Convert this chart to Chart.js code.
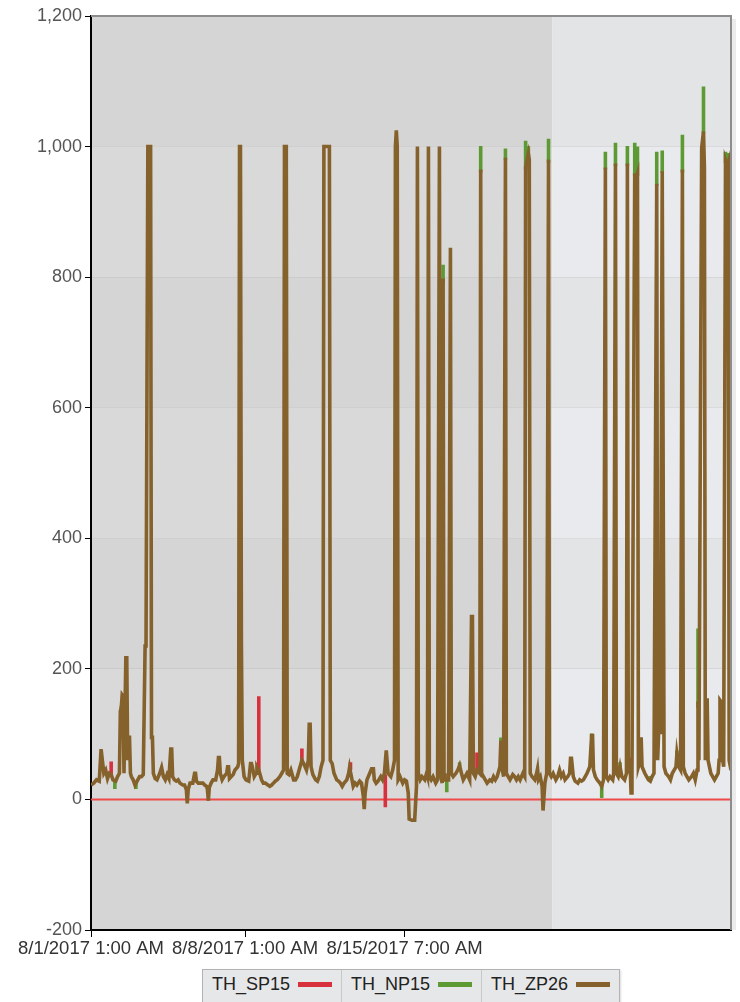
<!DOCTYPE html>
<html>
<head>
<meta charset="utf-8">
<script src="https://cdn.jsdelivr.net/npm/chart.js@4/dist/chart.umd.min.js"></script>
<style>
  body { margin: 0; background: #fff; font-family: "Liberation Sans", Arial, sans-serif; }
  #wrap { position: relative; width: 740px; height: 1002px; overflow: hidden; }
  #box { position: absolute; left: 0; top: 0; width: 740px; height: 965px; }
  #legend {
    position: absolute; left: 202px; top: 969px; display: flex;
    border: 1px solid #b3b3b3; background: #e6e7e8; box-shadow: 1px 1px 2px rgba(0,0,0,0.15);
  }
  #legend .item {
    display: flex; align-items: center; padding: 4px 9px 9px 9px; font-size: 18px; color: #222;
    border-left: 1px solid #c8c8c8;
  }
  #legend .item:first-child { border-left: none; }
  #legend .swatch { display: inline-block; width: 34px; height: 5px; margin-left: 8px; }
</style>
</head>
<body>
<div id="wrap">
  <div id="box"><canvas id="chart"></canvas></div>
  <div id="legend"></div>
</div>
<script>
// Hours counted from 8/1/2017 1:00 AM
const tickHours = [0, 168, 342];
const tickLabels = ['8/1/2017 1:00 AM', '8/8/2017 1:00 AM', '8/15/2017 7:00 AM'];
const seriesNames = ['TH_SP15', 'TH_NP15', 'TH_ZP26'];
const seriesColors = ['#d7313d', '#5e9a34', '#85612b'];
const shadeEndHour = 503; // 8/22/2017 0:00

// TH_ZP26 (brown) - [hour, value]
const zp26 = [
  [0,22],[3,25],[6,30],[9,28],[11,77],[14,40],[16,45],[18,32],[20,40],[22,38],[24,30],[27,28],[29,35],[31,40],
  [32,135],[33,140],[34,160],[35,158],[36,40],[38,217],[39,217],[40,60],[41,95],[42,95],[43,40],[44,35],[46,30],
  [48,22],[51,30],[53,35],[55,35],[57,38],[59,235],[60,235],[62,1000],[64,1000],[65,1000],[66,95],[67,95],[68,40],
  [70,32],[72,30],[75,40],[77,49],[79,35],[81,30],[83,38],[85,32],[87,77],[88,77],[89,35],[91,30],[93,28],[95,30],
  [97,25],[100,22],[102,22],[104,15],[105,-6],[106,15],[108,25],[111,25],[113,40],[114,40],[115,28],[117,25],
  [119,25],[122,25],[124,22],[126,20],[127,15],[128,-2],[129,18],[131,25],[133,30],[136,30],[138,45],[139,64],
  [140,64],[141,40],[143,30],[145,35],[148,40],[149,50],[150,50],[151,32],[153,35],[155,38],[157,45],[160,50],
  [161,55],[162,1000],[163,1000],[164,245],[165,60],[167,35],[169,30],[172,28],[174,55],[175,55],[176,50],[178,35],
  [180,40],[181,50],[183,45],[184,40],[186,30],[188,25],[190,25],[193,22],[195,20],[197,22],[199,25],[201,28],
  [203,30],[206,35],[208,40],[210,45],[211,1000],[213,1000],[214,40],[216,38],[218,45],[221,30],[223,30],[225,35],
  [227,45],[229,55],[230,60],[232,55],[235,45],[237,60],[238,115],[239,115],[240,50],[242,38],[245,30],[247,28],
  [249,35],[251,50],[253,60],[254,1000],[256,1000],[258,1000],[260,1000],[261,60],[263,55],[265,40],[268,30],
  [270,28],[272,25],[274,20],[276,25],[279,30],[281,40],[282,49],[284,35],[286,20],[288,25],[290,22],[293,28],
  [295,25],[297,5],[298,-15],[299,10],[301,30],[304,40],[306,47],[308,47],[309,30],[311,25],[313,28],[316,35],
  [318,30],[320,40],[322,75],[324,40],[327,35],[329,45],[331,60],[332,1000],[333,1025],[334,1000],[335,30],
  [337,35],[340,25],[342,30],[344,28],[346,10],[347,-30],[350,-32],[353,-32],[355,20],[356,1000],[357,40],
  [359,30],[361,35],[364,30],[366,40],[367,35],[368,1000],[369,35],[371,30],[373,35],[376,25],[378,30],[380,1000],
  [381,40],[383,25],[384,798],[385,40],[386,30],[388,30],[390,30],[392,845],[393,40],[395,35],[398,40],[400,45],
  [402,52],[404,40],[406,30],[408,35],[410,40],[413,30],[415,280],[416,280],[417,40],[419,35],[421,45],[424,40],
  [425,965],[426,40],[428,35],[430,30],[432,25],[435,30],[437,28],[439,35],[441,30],[443,35],[446,50],[447,90],
  [448,50],[450,35],[452,983],[453,40],[455,35],[457,30],[460,38],[462,35],[464,30],[466,35],[468,30],[471,40],
  [473,35],[474,968],[475,975],[477,989],[478,980],[479,40],[481,35],[484,30],[486,40],[487,47],[488,30],[490,35],
  [492,20],[493,-17],[495,25],[497,40],[499,980],[500,40],[502,35],[504,40],[507,30],[509,35],[511,45],[513,35],
  [515,40],[517,30],[520,35],[522,40],[523,63],[524,63],[526,35],[528,28],[531,25],[533,30],[535,28],[537,30],
  [539,35],[541,40],[544,50],[546,98],[547,98],[548,45],[550,35],[552,30],[555,25],[557,20],[559,30],[561,968],
  [562,35],[564,30],[566,35],[569,30],[570,40],[572,974],[573,40],[575,35],[577,50],[579,35],[582,30],[584,40],
  [585,974],[586,45],[588,50],[589,10],[590,40],[593,959],[594,950],[596,959],[597,50],[599,60],[600,95],[601,50],
  [604,40],[606,35],[608,30],[610,28],[612,35],[614,40],[617,943],[618,60],[620,139],[621,100],[623,962],[625,50],
  [627,40],[630,35],[632,30],[634,40],[636,45],[638,50],[639,70],[641,50],[643,45],[645,965],[646,50],[648,40],
  [650,35],[652,30],[655,35],[657,40],[659,30],[661,45],[662,150],[663,60],[666,998],[668,1023],[669,970],[670,60],
  [671,120],[672,155],[673,60],[676,40],[678,35],[680,30],[682,35],[684,40],[685,60],[686,152],[687,150],[689,60],
  [690,50],[692,979],[694,970],[695,975],[696,60],[698,45]
];

// TH_NP15 (green) - only where it shows past TH_ZP26; null breaks the line
const np15 = [
  [26,30],[26,16],null,[49,28],[49,16],null,[33,132],[33,143],null,[388,30],[388,11],null,
  [384,790],[384,819],null,[402,50],[402,57],null,[425,960],[425,1001],null,[447,88],[447,95],null,
  [452,980],[452,997],null,[474,965],[474,1009],null,[477,985],[477,1001],null,[499,975],[499,1012],null,
  [546,95],[546,101],null,[557,22],[557,2],null,[561,965],[561,992],null,[572,970],[572,1006],null,
  [577,48],[577,57],null,[585,970],[585,1001],null,[593,955],[593,1006],null,[596,955],[596,1000],null,
  [610,28],[610,36],null,[617,940],[617,992],null,[623,960],[623,994],null,[639,68],[639,75],null,
  [645,960],[645,1018],null,[662,140],[662,262],null,[668,1020],[668,1092],null,[692,975],[692,992],null,
  [695,970],[695,990]
];

// TH_SP15 (red) - only where it shows past TH_ZP26
const sp15 = [
  [22,38],[22,58],null,[183,45],[183,158],null,[230,58],[230,78],null,[283,45],[283,57],null,
  [321,38],[321,-12],null,[421,45],[421,72],null,[588,48],[588,64]
];

const toPoints = arr => arr.map(p => p ? { x: p[0], y: p[1] } : { x: null, y: null });

const bandPlugin = {
  id: 'bands',
  beforeDraw(chart) {
    const { ctx, chartArea: a, scales: { x, y } } = chart;
    const xs = x.getPixelForValue(shadeEndHour);
    ctx.save();
    for (let v = -200, i = 0; v < 1200; v += 200, i++) {
      const top = y.getPixelForValue(v + 200), bot = y.getPixelForValue(v);
      const dark = i % 2 === 0;
      ctx.fillStyle = dark ? '#d5d5d5' : '#d9d9d9';
      ctx.fillRect(a.left, top, xs - a.left, bot - top);
      ctx.fillStyle = dark ? '#e3e4e6' : '#e9eaed';
      ctx.fillRect(xs, top, a.right - xs, bot - top);
    }
    ctx.restore();
  },
  beforeDatasetsDraw(chart) {
    const { ctx, chartArea: a, scales: { y } } = chart;
    const y0 = y.getPixelForValue(0);
    ctx.save();
    ctx.strokeStyle = '#ee4a4a';
    ctx.lineWidth = 2;
    ctx.beginPath();
    ctx.moveTo(a.left, y0);
    ctx.lineTo(a.right, y0);
    ctx.stroke();
    ctx.restore();
  },
  afterDraw(chart) {
    const { ctx, chartArea: a } = chart;
    ctx.save();
    ctx.strokeStyle = 'rgba(0,0,0,0.08)';
    ctx.lineWidth = 4;
    ctx.beginPath();
    ctx.moveTo(a.right + 3, a.top + 3);
    ctx.lineTo(a.right + 3, a.bottom);
    ctx.stroke();
    ctx.strokeStyle = '#8d8d8d';
    ctx.lineWidth = 2;
    ctx.beginPath();
    ctx.moveTo(a.left, a.top);
    ctx.lineTo(a.right, a.top);
    ctx.lineTo(a.right, a.bottom);
    ctx.stroke();
    ctx.restore();
  }
};

const datasets = [sp15, np15, zp26].map((arr, i) => ({
  label: seriesNames[i],
  data: toPoints(arr),
  borderColor: seriesColors[i],
  borderWidth: 3.6,
  pointRadius: 0,
  tension: 0,
  spanGaps: false,
  order: 3 - i
}));

new Chart(document.getElementById('chart'), {
  type: 'line',
  data: { datasets },
  plugins: [bandPlugin],
  options: {
    responsive: true,
    maintainAspectRatio: false,
    animation: false,
    layout: { padding: { top: 16, right: 9, left: 0, bottom: 0 } },
    plugins: { legend: { display: false }, tooltip: { enabled: false } },
    scales: {
      x: {
        type: 'linear',
        min: 0,
        max: 698,
        afterBuildTicks: s => { s.ticks = tickHours.map(v => ({ value: v })); },
        afterFit: s => { s.height = 35; },
        ticks: {
          autoSkip: false,
          maxRotation: 0,
          padding: 1,
          color: '#333',
          font: { family: '"Liberation Sans", Arial', size: 18.5 },
          callback: v => tickLabels[tickHours.indexOf(v)]
        },
        grid: { drawOnChartArea: false, tickLength: 7, tickColor: '#000' },
        border: { color: '#000', width: 2 }
      },
      y: {
        min: -200,
        max: 1200,
        afterFit: s => { s.width = 91; },
        ticks: {
          stepSize: 200,
          padding: 3,
          color: '#555',
          font: { family: '"Liberation Sans", Arial', size: 18 }
        },
        grid: { color: 'rgba(0,0,0,0.07)', tickLength: 6, tickColor: '#000' },
        border: { color: '#000', width: 2 }
      }
    }
  }
});

// legend: text then line swatch, boxed cells
const legend = document.getElementById('legend');
seriesNames.forEach((name, i) => {
  const item = document.createElement('div');
  item.className = 'item';
  item.innerHTML = `<span>${name}</span><span class="swatch" style="background:${seriesColors[i]}"></span>`;
  legend.appendChild(item);
});
</script>
</body>
</html>
